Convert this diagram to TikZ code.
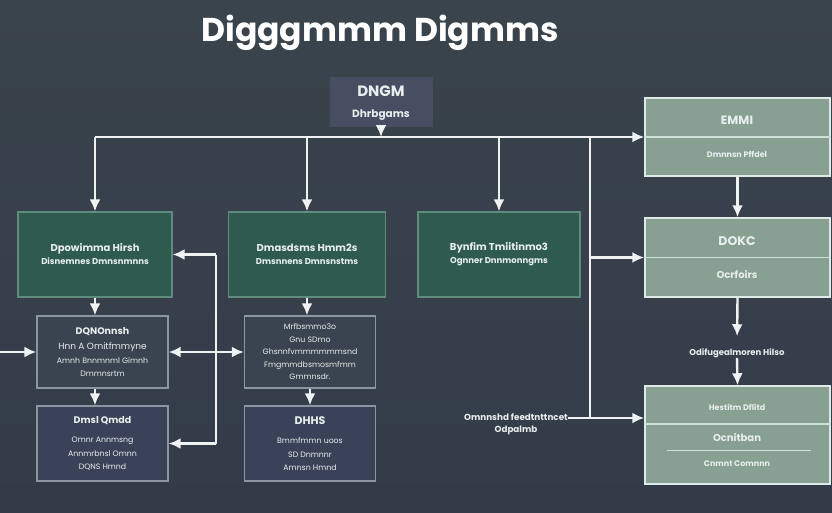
\documentclass[tikz,border=0pt]{standalone}
\usepackage{fontspec}
\setmainfont{Poppins}
\usetikzlibrary{arrows.meta,calc,positioning}
\definecolor{bgtop}{HTML}{3A444C}
\definecolor{bgbot}{HTML}{333B49}
\definecolor{linkc}{HTML}{EEF2F2}
\definecolor{textc}{HTML}{E8EEEE}
\definecolor{gfill}{HTML}{2F5A4E}
\definecolor{gedge}{HTML}{5E8C7E}
\definecolor{sfill}{HTML}{87A091}
\definecolor{sedge}{HTML}{DCEBE7}
\definecolor{dfill}{HTML}{3A4350}
\definecolor{dfillb}{HTML}{3A4257}
\definecolor{dedge}{HTML}{8C95A2}
\definecolor{tfill}{HTML}{474E62}

\begin{document}
\begin{tikzpicture}[x=1pt,y=-1pt]
      \tikzset{link/.style={draw=linkc, line width=2.4pt,
          -{Latex[length=12pt,width=11pt]}},
        link both/.style={draw=linkc, line width=2.4pt,
          {Latex[length=12pt,width=11pt]}-{Latex[length=12pt,width=11pt]}},
        line/.style={draw=linkc, line width=2.4pt},
        gbox/.style={draw=gedge, fill=gfill, line width=1.2pt,
          minimum height=85pt, text=textc, align=center,
          font=\bfseries\fontsize{8.5}{13}\selectfont},
        dbox/.style={draw=dedge, fill=#1, line width=1.3pt,
          minimum width=131pt, text=textc, align=center,
          font=\fontsize{7.8}{13.5}\selectfont},
        sbox/.style={draw=sedge, fill=sfill, line width=1.5pt,
          minimum width=185pt},
        stext/.style={text=textc, inner sep=0pt},
        divider/.style={draw=sedge!85!sfill, line width=1.3pt}
      }
      \shade [top color=bgtop, bottom color=bgbot] (0,0) rectangle (832,512);
      \useasboundingbox (0,0) rectangle (832,512);

      \node [text=white, font=\bfseries\fontsize{33}{40}\selectfont] (title) at (380,33) {Digggmmm Digmms};

      \node [fill=tfill, minimum width=103pt, minimum height=50pt] (dngm) at (381,102) {};
      \node [stext, font=\bfseries\fontsize{15}{18}\selectfont] (dngmt) at (381,91) {DNGM};
      \node [stext, font=\bfseries\fontsize{10.5}{12}\selectfont] (dngms) at (381,115) {Dhrbgams};

      \node [gbox, minimum width=154pt] (g1) at (95,254.5)
        {{\fontsize{10}{13}\selectfont Dpowimma Hirsh}\\Disnemnes Dmnsnmnns};
      \node [gbox, minimum width=157pt] (g2) at (307,254.5)
        {{\fontsize{10}{13}\selectfont Dmasdsms Hmm2s}\\Dmsnnens Dmnsnstms};
      \node [gbox, minimum width=162pt] (g3) at (499,254.5)
        {{\fontsize{10}{13}\selectfont Bynfim Tmiitinmo3}\\Ognner Dnnmonngms};

      \node [dbox=dfill, minimum height=72pt] (d1) at (102.5,352)
        {{\bfseries\fontsize{9.5}{13}\selectfont DQNOnnsh}\\[2pt]{\fontsize{9}{13}\selectfont Hnn A Omitfmmyne}\\Amnh Bnnmnml Gimnh\\Dmmnsrtm};
      \node [dbox=dfillb, minimum height=75pt] (d2) at (102.5,443.5)
        {{\bfseries\fontsize{9.5}{13}\selectfont Dmsl Qmdd}\\[6pt]Omnr Annmsng\\Annmrbnsl Omnn\\DQNS Hmnd};
      \node [dbox=dfill, minimum height=72pt, font=\fontsize{7.8}{12.5}\selectfont] (d3) at (310,352)
        {Mrfbsmmo3o\\Gnu SDmo\\Ghsnnfvmmmmmmsnd\\Fmgmmdbsmosmfmm\\Gmmnsdr.};
      \node [dbox=dfillb, minimum height=75pt] (d4) at (310,443.5)
        {{\bfseries\fontsize{11}{13}\selectfont DHHS}\\[6pt]Bmmfmmn uoos\\SD Dnmnnr\\Amnsn Hmnd};

      \node [sbox, minimum height=78pt] (emm) at (737.5,137) {};
      \node [sbox, minimum height=79pt] (doc) at (737.5,257.5) {};
      \node [sbox, minimum height=98pt] (fin) at (737.5,435) {};
      \draw [divider] (emm.west) -- (emm.east);
      \draw [divider] (doc.west) -- (doc.east);
      \draw [divider] ([yshift=11pt]fin.west) -- ([yshift=11pt]fin.east);
      \draw [divider, line width=1pt] ($(fin.west)+(23,15)$) -- ($(fin.east)+(-20,15)$);
      \node [stext, font=\bfseries\fontsize{12}{14}\selectfont] (emmt) at (737,120) {EMMI};
      \node [stext, font=\bfseries\fontsize{8}{10}\selectfont] (emms) at (737,154) {Dmnnsn Pffdel};
      \node [stext, font=\bfseries\fontsize{12.5}{14}\selectfont] (doct) at (737,241) {DOKC};
      \node [stext, font=\bfseries\fontsize{10}{12}\selectfont] (docs) at (737,275) {Ocrfoirs};
      \node [stext, font=\bfseries\fontsize{8}{10}\selectfont] (fint) at (737,407) {Hestitm Dflitd};
      \node [stext, font=\bfseries\fontsize{10}{12}\selectfont] (finm) at (737,438) {Ocnitban};
      \node [stext, font=\bfseries\fontsize{8}{10}\selectfont] (fins) at (737,464) {Cnmnt Comnnn};

      \node [stext, font=\bfseries\fontsize{8.5}{10}\selectfont] (mid) at (737,353) {Odifugealmoren Hilso};
      \node [stext, align=center, anchor=east, font=\bfseries\fontsize{8.8}{12}\selectfont] (fbl) at (568,424)
        {Omnnshd feedtnttncet\\Odpalmb};

      \coordinate (bus) at (95,137);
      \coordinate (spine) at (590,137);
      \coordinate (ret) at (216,0);
      \coordinate (in) at (0,352);
      \coordinate (fbin) at ([yshift=17pt]fin.west);

      \draw [link] (dngm.south) -- (dngm.south |- bus);
      \draw [link] (bus) -- (emm.west);
      \draw [link] (bus) -- (g1.north);
      \draw [link] (bus -| g2.north) -- (g2.north);
      \draw [link] (bus -| g3.north) -- (g3.north);
      \draw [line] (spine) -- (spine |- fbin);
      \draw [link] (spine |- doc.west) -- (doc.west);
      \draw [link] ([yshift=6pt]fbl.east) -- (fbin);

      \draw [link] (g1.south) -- (g1.south |- d1.north);
      \draw [link] (g1.south |- d1.south) -- (g1.south |- d2.north);
      \draw [link] (g2.south) -- (g2.south |- d3.north);
      \draw [link] (d3.south) -- (d4.north);
      \draw [link] (in) -- (d1.west);
      \draw [line] (ret |- g1.east) -- (ret |- d2.east);
      \draw [link] (ret |- g1.east) -- (g1.east);
      \draw [link] (ret |- d2.east) -- (d2.east);
      \draw [link both] (d1.east) -- (d3.west);

      \draw [link] (emm.south) -- (doc.north);
      \draw [link, shorten >=12pt] (doc.south) -- (mid.north);
      \draw [link] (mid.south) -- (fin.north);

    \end{tikzpicture}
\end{document}
